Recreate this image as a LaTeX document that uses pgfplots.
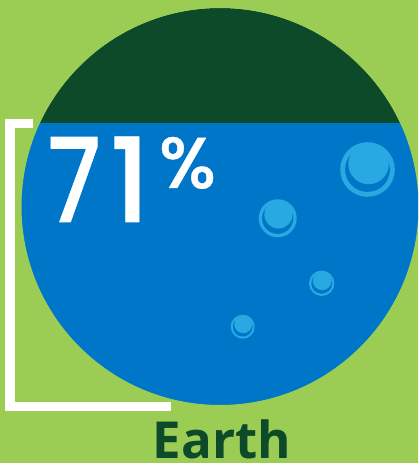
\documentclass[border=0pt]{standalone}
\usepackage{fontspec}
\setmainfont{Open Sans}
\newfontfamily\popfont{Poppins}[BoldFont={* Medium},BoldFeatures={FakeBold=0.6}]
\usepackage{pgfplots}
\pgfplotsset{compat=1.18}
\definecolor{bg}{HTML}{9BCD55}
\definecolor{land}{HTML}{0C4A29}
\definecolor{water}{HTML}{0076C8}
\definecolor{bubblec}{HTML}{29A9E1}
\definecolor{earthtxt}{HTML}{0C4A29}
\newcommand{\bubble}[3]{%
  \fill[bubblec] (axis cs:#1,#2) circle[radius=#3];
  \fill[water] (axis cs:#1,#2) circle[radius=0.82*#3];
  \fill[bubblec] ([shift={(0.04*#3pt,0.2*#3pt)}]axis cs:#1,#2) circle[radius=0.74*#3];
}
\begin{document}
\begin{tikzpicture}
\begin{axis}[width=418pt,height=463pt,scale only axis,
  xmin=0,xmax=418,ymin=0,ymax=463,axis lines=none,clip=true]
\fill[bg] (axis cs:0,0) rectangle (axis cs:418,463);
% land (whole globe)
\fill[land] (axis cs:220,256.5) circle[radius=198.5];
% water: 71% of the globe's height, bottom 58 to top 455
\addplot[fill=water,draw=none] coordinates {(0,58) (418,58) (418,339.9) (0,339.9)} --cycle;
% mask outside the globe
\fill[bg,even odd rule] (axis cs:-5,-5) rectangle (axis cs:423,468) (axis cs:220,256.5) circle[radius=198.5];
% bracket
\draw[white,line width=9.5pt,line cap=butt,line join=miter] (axis cs:33,339.5) -- (axis cs:10,339.5) -- (axis cs:10,56.5) -- (axis cs:171,56.5);
% bubbles
\bubble{367.5}{293.5}{27.3}
\bubble{277.7}{244.7}{19}
\bubble{321.7}{179.7}{12.7}
\bubble{242.7}{136.3}{12}
% texts
\node[white,inner sep=0,anchor=base,xscale=0.82,font=\popfont\bfseries\fontsize{117}{117}\selectfont] at (axis cs:74,241) {7};
\node[white,inner sep=0,anchor=base,font=\popfont\bfseries\fontsize{117}{117}\selectfont] at (axis cs:130,241) {1};
\node[white,inner sep=0,anchor=base,font=\popfont\bfseries\fontsize{72}{72}\selectfont] at (axis cs:187.5,275) {\%};
\node[earthtxt,inner sep=0,anchor=base,font=\bfseries\fontsize{51}{51}\selectfont] at (axis cs:222,5) {Earth};
\end{axis}
\end{tikzpicture}
\end{document}
